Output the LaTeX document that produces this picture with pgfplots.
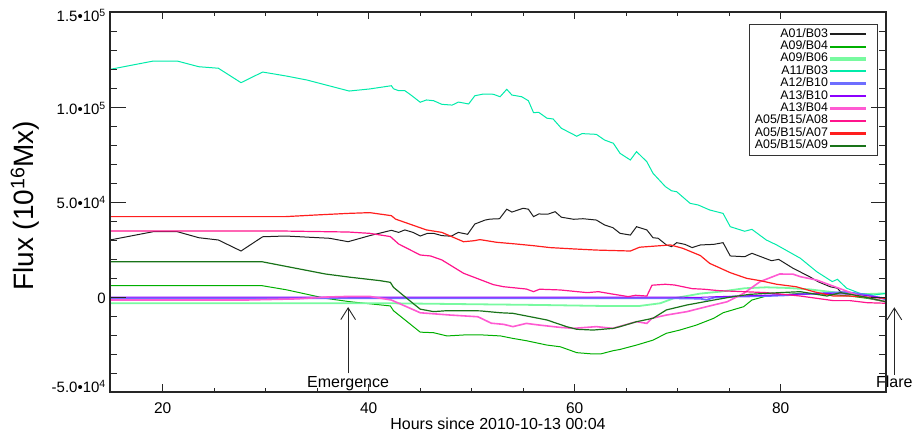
\documentclass[border=0pt]{standalone}
\usepackage{fontspec}
\setmainfont{Liberation Sans}
\usepackage{pgfplots}
\pgfplotsset{compat=1.18}
\usetikzlibrary{arrows.meta}
\definecolor{cA01}{RGB}{30,30,30}
\definecolor{cA09B04}{RGB}{0,175,0}
\definecolor{cA09B06}{RGB}{120,250,160}
\definecolor{cA11}{RGB}{0,235,170}
\definecolor{cA12}{RGB}{110,110,255}
\definecolor{cA13B10}{RGB}{140,0,255}
\definecolor{cA13B04}{RGB}{255,90,210}
\definecolor{cA08}{RGB}{255,20,140}
\definecolor{cA07}{RGB}{255,30,30}
\definecolor{cA09}{RGB}{25,115,25}
\begin{document}
\begin{tikzpicture}
\useasboundingbox (-110pt,-41pt) rectangle (804pt,392pt);
\begin{axis}[
  scale only axis, width=776pt, height=380pt,
  xmin=14.88, xmax=90.22, ymin=-50000, ymax=150000,
  axis line style={line width=1.2pt, black!85},
  xtick={20,40,60,80}, xticklabels={20,40,60,80},
  minor x tick num=3,
  major tick length=7.5pt, minor tick length=3.75pt,
  tick style={line width=0.8pt, black!85},
  ytick=\empty,
  xticklabel style={anchor=base, yshift=-21.3pt, font=\fontsize{15.5}{18}\selectfont},
  xlabel={Hours since 2010-10-13 00:04},
  xlabel style={at={(axis description cs:0.5,0)}, anchor=base, yshift=-37.5pt, font=\fontsize{16}{19}\selectfont},
  clip=false,
  legend plot pos=right, legend cell align=right,
  legend style={at={(rel axis cs:0.9897,0.9684)}, anchor=north east, draw=black!80, line width=1pt,
    font=\fontsize{12.4}{13}\selectfont, inner xsep=5pt, inner ysep=3.5pt, row sep=0pt,
    nodes={inner sep=0pt, text height=9pt, text depth=3.4pt}},
  legend image code/.code={\draw[#1, line width=1.2\pgflinewidth+0.3pt] (8pt,0pt) -- (44pt,0pt); \path (50pt,0pt);},
]
\addplot[color=cA01, line width=1pt] coordinates {(14.88,30000) (19.1,34400) (21.4,34400) (23.5,31200) (25.4,30000) (27.6,24200) (29.7,31700) (31.9,32100) (36.2,30900) (38.0,29100) (40.1,32300) (42.2,35100) (42.9,34000) (43.5,35300) (44.3,34000) (45.0,32100) (45.7,33500) (46.3,33500) (47.1,32300) (48.0,32000) (48.7,34000) (49.6,33000) (50.3,38400) (51.3,40500) (51.8,41000) (52.7,41200) (53.4,46200) (53.9,44700) (55.0,46700) (55.5,46200) (56.0,42300) (56.5,43700) (57.4,43600) (58.1,44900) (58.7,42000) (59.9,40900) (60.8,41200) (62.1,40500) (62.9,37900) (63.7,36500) (64.4,33500) (65.4,32600) (66.0,37000) (67.0,35300) (67.6,31200) (68.1,30900) (68.9,27400) (69.4,26500) (69.9,28600) (70.7,27700) (71.4,26000) (72.2,27400) (73.5,27700) (74.4,28600) (75.1,21600) (76.5,21200) (77.2,23000) (79.1,19100) (79.8,19800) (81.2,15100) (82.8,10700) (83.6,8100) (84.8,5400) (85.5,4600) (85.8,2800) (87.4,1000) (88.5,-300) (90.2,-2500)};
\addlegendentry{A01/B03}
\addplot[color=cA09B04, line width=1pt] coordinates {(14.88,6000) (29.6,6000) (32,3800) (35.8,-700) (38.2,-2500) (42.1,-4700) (42.4,-7200) (45.0,-18500) (46.3,-18800) (47.6,-20500) (49.2,-20000) (50.8,-19900) (52.8,-20500) (54.0,-21800) (55.3,-23000) (57.3,-25300) (58.6,-26200) (60.2,-29300) (61.8,-30000) (62.5,-30000) (63.7,-28300) (64.4,-27600) (66.0,-25300) (67.6,-22700) (68.9,-19100) (70.2,-17400) (71.8,-14800) (73.5,-11200) (74.4,-8300) (76.4,-5100) (77.2,-1600) (78.6,500) (81.9,1900) (84.5,1500) (86.7,500) (88.5,-800) (90.2,-2500)};
\addlegendentry{A09/B04}
\addplot[color=cA09B06, line width=1.8pt] coordinates {(14.88,-3300) (42.0,-3300) (50.0,-3800) (56.6,-4200) (62.5,-4700) (66.3,-4700) (68.3,-3300) (69.6,-700) (72.2,1800) (74.1,2800) (76.5,4600) (78.6,5100) (80.5,4800) (82.8,4000) (86.1,1900) (88,1500) (90.2,1900)};
\addlegendentry{A09/B06}
\addplot[color=cA11, line width=1pt] coordinates {(14.88,119800) (19.1,124200) (21.4,124200) (23.5,121200) (25.4,120400) (27.6,112800) (29.7,118400) (32.0,116300) (34.0,114200) (38.1,108400) (40.1,109500) (42.2,111200) (42.4,109600) (42.9,108600) (43.5,108600) (44.0,106700) (45.0,102500) (45.6,103700) (46.3,103300) (47.1,101400) (48.1,101000) (48.7,102600) (49.7,101600) (50.3,105900) (51.1,106800) (52.1,106700) (52.75,105400) (53.4,109300) (53.9,106300) (54.85,105400) (55.5,103300) (56.0,97000) (56.5,97200) (57.3,94100) (57.9,93700) (58.7,88800) (60.2,84600) (60.7,86000) (62.1,85600) (62.9,82600) (63.75,80900) (64.4,75600) (65.4,72100) (66.0,76500) (67.0,71200) (67.6,65100) (68.8,58100) (69.4,55900) (69.9,55400) (71.2,49300) (72.0,48400) (73.1,45800) (74.4,44000) (75.1,37000) (76.5,34600) (77.2,35600) (78.6,30000) (79.6,27400) (81.9,20400) (83.5,13300) (85.0,8100) (85.5,9300) (86.4,4600) (87.7,1900) (89.0,1000) (90.2,1900)};
\addlegendentry{A11/B03}
\addplot[color=cA12, line width=1.8pt] coordinates {(14.88,-700) (70.0,-700) (72.2,-900) (72.8,-1500) (73.5,-300) (75.6,200) (78.6,500) (80.5,900) (81.9,1400) (85.1,2300) (86.4,2600) (88.5,1000) (90.2,-1200)};
\addlegendentry{A12/B10}
\addplot[color=cA13B10, line width=1pt] coordinates {(14.88,-100) (70,-100) (72,-200) (74,200) (76,500) (80,1200) (84,1800) (87,1500) (90.2,-500)};
\addlegendentry{A13/B10}
\addplot[color=cA13B04, line width=1.6pt] coordinates {(14.88,-1600) (28,-1600) (33,-1000) (36,0) (38,300) (40.1,300) (42.2,-1600) (45.0,-8300) (47.9,-9500) (50.6,-10400) (51.9,-13800) (53.1,-14400) (54.0,-15600) (55.3,-13900) (56.6,-14800) (58.6,-16000) (59.9,-16500) (62.1,-15600) (63.7,-16500) (66.0,-13000) (67.0,-13900) (67.5,-11200) (68.9,-9500) (70.9,-7700) (72.8,-5100) (74.8,-2500) (76.4,1900) (78.0,8100) (79.9,12100) (81.2,12000) (81.9,10700) (83.5,8900) (84.8,6300) (86.1,3700) (87.4,1000) (90.2,-2500)};
\addlegendentry{A13/B04}
\addplot[color=cA08, line width=1.2pt] coordinates {(14.88,34700) (31.9,34700) (38.0,34200) (40.1,33500) (42.1,31800) (42.9,27900) (45.0,22100) (46.0,21600) (47.1,19500) (49.2,12500) (50.6,9600) (52.1,6500) (53.1,5400) (55.3,4200) (56.0,2800) (56.6,4100) (58.6,3700) (61.2,2300) (62.3,2800) (63.6,1600) (65.2,200) (65.9,900) (67.0,500) (67.5,6200) (68.8,6700) (69.7,6300) (71.4,4400) (72.5,4100) (74.1,3300) (76.4,2800) (78.6,2300) (81.9,500) (83.5,-700) (85.1,-1900) (86.7,-1900) (88.4,-3000) (90.2,-3300)};
\addlegendentry{A05/B15/A08}
\addplot[color=cA07, line width=1.2pt] coordinates {(14.88,42300) (31.9,42300) (35.0,43200) (38.0,44000) (40.1,44400) (42.2,42800) (42.6,41000) (45.6,35300) (47.1,34000) (49.2,29100) (50.2,29600) (50.8,30200) (52.4,28800) (54.3,27900) (56.0,27000) (57.6,26000) (59.9,25300) (62.1,24700) (65.4,24200) (66.3,26200) (69.3,27400) (70.5,25600) (72.2,21800) (73.1,17700) (75.1,12800) (76.7,9800) (78.0,8600) (79.6,6700) (81.5,5400) (83.2,2800) (85.1,500) (86.7,500) (90.2,-700)};
\addlegendentry{A05/B15/A07}
\addplot[color=cA09, line width=1.2pt] coordinates {(14.88,18600) (29.6,18600) (35.8,12100) (38.2,10400) (41.1,8600) (42.1,7700) (42.4,5100) (43.9,-1600) (45.0,-6400) (46.3,-7700) (47.6,-7200) (49.2,-7200) (50.8,-7300) (52.8,-8300) (54.0,-8600) (55.7,-10400) (57.3,-12100) (59.2,-15600) (60.2,-17000) (61.8,-17400) (63.75,-16500) (64.4,-15600) (66.0,-13000) (67.6,-11200) (68.9,-6800) (70.9,-4200) (73.5,-1600) (75.4,200) (77.0,1400) (79.9,2300) (81.9,2800) (84.5,500) (85.8,2300) (87.7,500) (90.2,-2500)};
\addlegendentry{A05/B15/A09}
\draw[line width=0.9pt, black!85, -{Straight Barb[length=11.7pt,width=14.7pt]}] (axis cs:38.0,-40200) -- (axis cs:38.0,-5300);
\node[anchor=base, inner sep=0pt, font=\fontsize{16}{19}\selectfont] at (axis cs:38.0,-47700) {Emergence};
\draw[line width=0.9pt, black!85, -{Straight Barb[length=11.7pt,width=14.7pt]}] (axis cs:91.03,-41000) -- (axis cs:91.03,-5400);
\node[anchor=base, inner sep=0pt, font=\fontsize{16}{19}\selectfont] at (axis cs:91.03,-47700) {Flare};
\end{axis}
\begin{axis}[
  scale only axis, width=776pt, height=380pt,
  xmin=14.88, xmax=90.22, ymin=-50000, ymax=150000,
  axis line style={line width=1.2pt, black!85},
  xtick=\empty,
  ytick={-50000,0,50000,100000,150000},
  yticklabels={{\raisebox{-0.5pt}{-5.0•10\textsuperscript{4}}}, {\raisebox{-6.3pt}{0}}, {\raisebox{-7pt}{5.0•10\textsuperscript{4}}}, {\raisebox{-8pt}{1.0•10\textsuperscript{5}}}, {\raisebox{-9.5pt}{1.5•10\textsuperscript{5}}}},
  scaled y ticks=false,
  minor y tick num=4,
  major tick length=15.5pt, minor tick length=7.5pt,
  tick style={line width=0.8pt, black!85},
  yticklabel style={anchor=base east, inner xsep=0pt, xshift=-4pt, font=\fontsize{15}{18}\selectfont},
  ylabel={Flux (10\textsuperscript{16}Mx)},
  ylabel style={at={(axis description cs:-0.0986,0.49)}, anchor=base, font=\fontsize{28}{30}\selectfont},
]
\end{axis}
\end{tikzpicture}
\end{document}
